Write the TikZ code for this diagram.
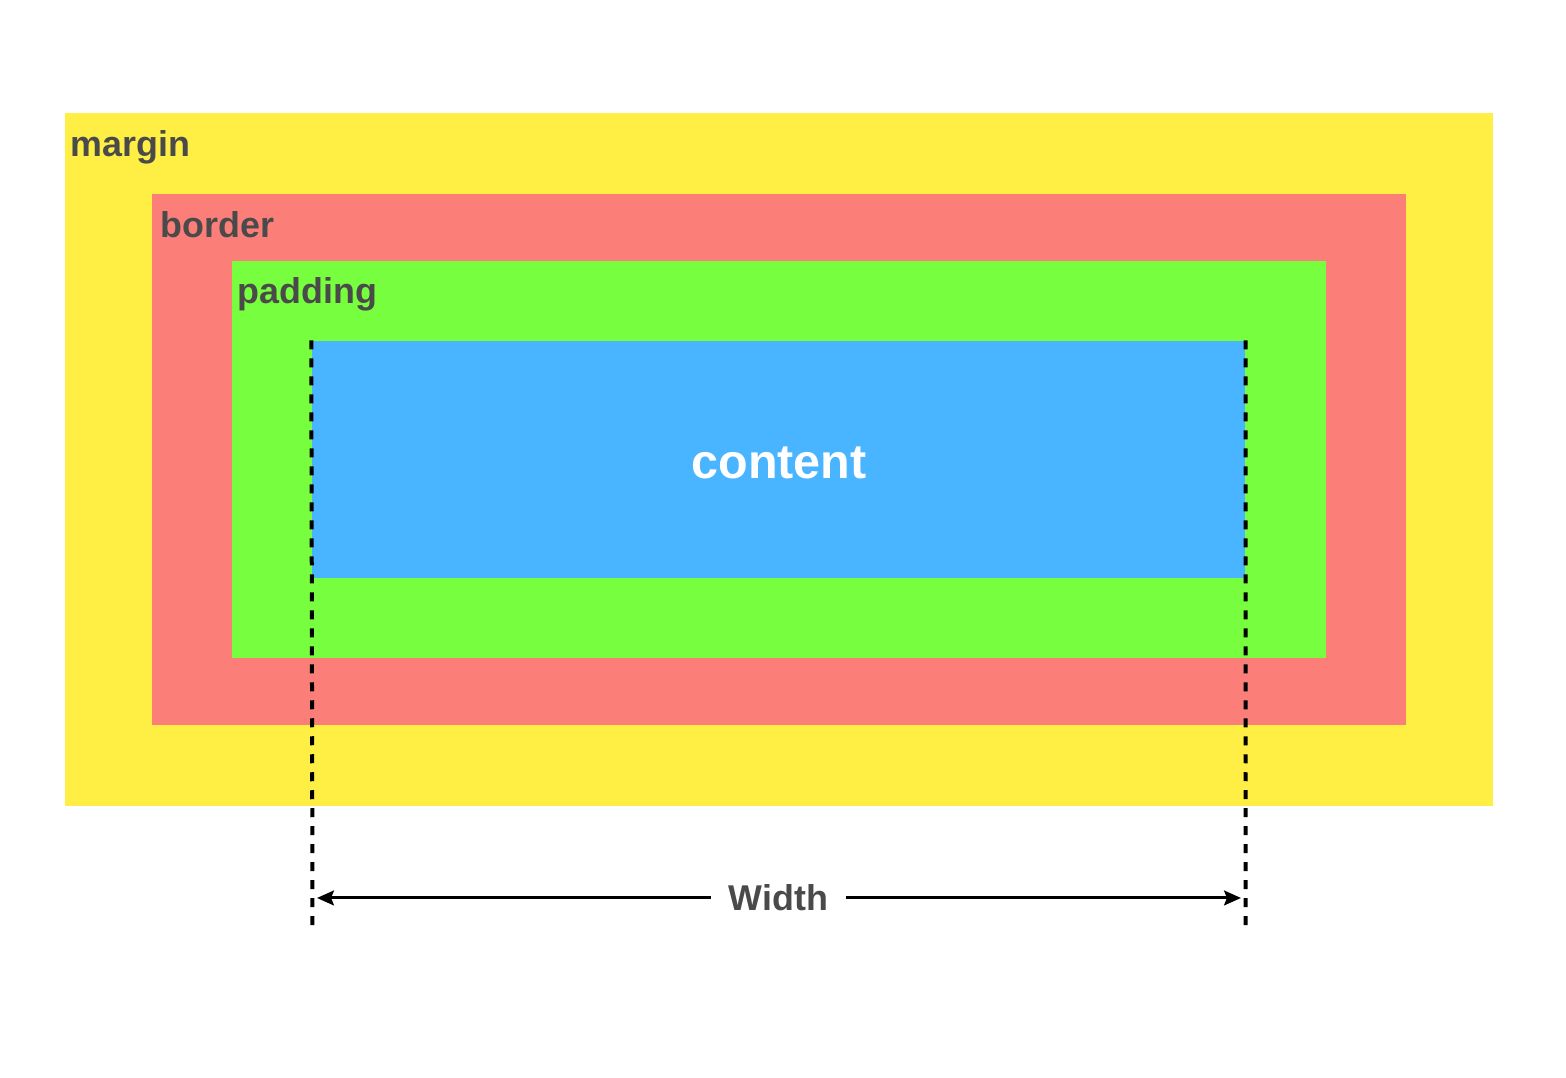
\documentclass[tikz,border=0pt]{standalone}
\usepackage{fontspec}
\setmainfont{Liberation Sans}
\usepackage{xcolor}
\definecolor{MarginYellow}{RGB}{255, 239, 69}
\definecolor{BorderRed}{RGB}{251, 127, 120}
\definecolor{PaddingGreen}{RGB}{119, 255, 63}
\definecolor{ContentBlue}{RGB}{73, 180, 255}
\definecolor{LabelGray}{RGB}{74, 74, 74}
\usetikzlibrary{arrows.meta, positioning}

\begin{document}
\begin{tikzpicture}[
        layer/.style={rectangle, draw=none, inner sep=0pt},
        lbl/.style={font=\fontsize{10.2}{12}\selectfont\bfseries, color=LabelGray, anchor=base west, inner sep=0pt},
        guide/.style={black, line width=0.04cm, dash pattern=on 0.09cm off 0.09cm},
        arrow/.style={-{Stealth[length=4.8pt, width=4.2pt, inset=0.8pt]}, line width=0.85pt, black}
    ]
        \useasboundingbox (0,0) rectangle (15.66,10.78);

        % Nodes
        \node[layer, fill=MarginYellow, minimum width=14.28cm, minimum height=6.93cm] (margin) at (7.79,6.185) {};
        \node[layer, fill=BorderRed, minimum width=12.54cm, minimum height=5.31cm] (border) at (margin.center) {};
        \node[layer, fill=PaddingGreen, minimum width=10.94cm, minimum height=3.97cm] (padding) at (margin.center) {};
        \node[layer, fill=ContentBlue, minimum width=9.33cm, minimum height=2.37cm] (content) at (7.785,6.185) {};

        % Labels
        \node[lbl, xshift=0.06cm, yshift=-0.44cm] (marginlbl) at (margin.north west) {margin};
        \node[lbl, xshift=0.09cm, yshift=-0.44cm] (borderlbl) at (border.north west) {border};
        \node[lbl, xshift=0.06cm, yshift=-0.43cm] (paddinglbl) at (padding.north west) {padding};
        \node[font=\fontsize{13.8}{16}\selectfont\bfseries, color=white] (contentlbl) at (7.79,6.15) {content};

        % Guides
        \coordinate (leftend) at (3.125,1.47);
        \coordinate (rightend) at (12.455,1.47);
        \draw[guide] (content.north west) -- (leftend);
        \draw[guide] (content.north east) -- (rightend);

        % Width arrow
        \node[font=\fontsize{10.2}{12}\selectfont\bfseries, color=LabelGray, inner xsep=0.17cm, inner ysep=0pt] (width) at (7.785,1.80) {Width};
        \coordinate (leftarr) at (3.17,1.80);
        \coordinate (rightarr) at (12.41,1.80);
        \draw[arrow] (width.west) -- (leftarr);
        \draw[arrow] (width.east) -- (rightarr);
    \end{tikzpicture}
\end{document}
